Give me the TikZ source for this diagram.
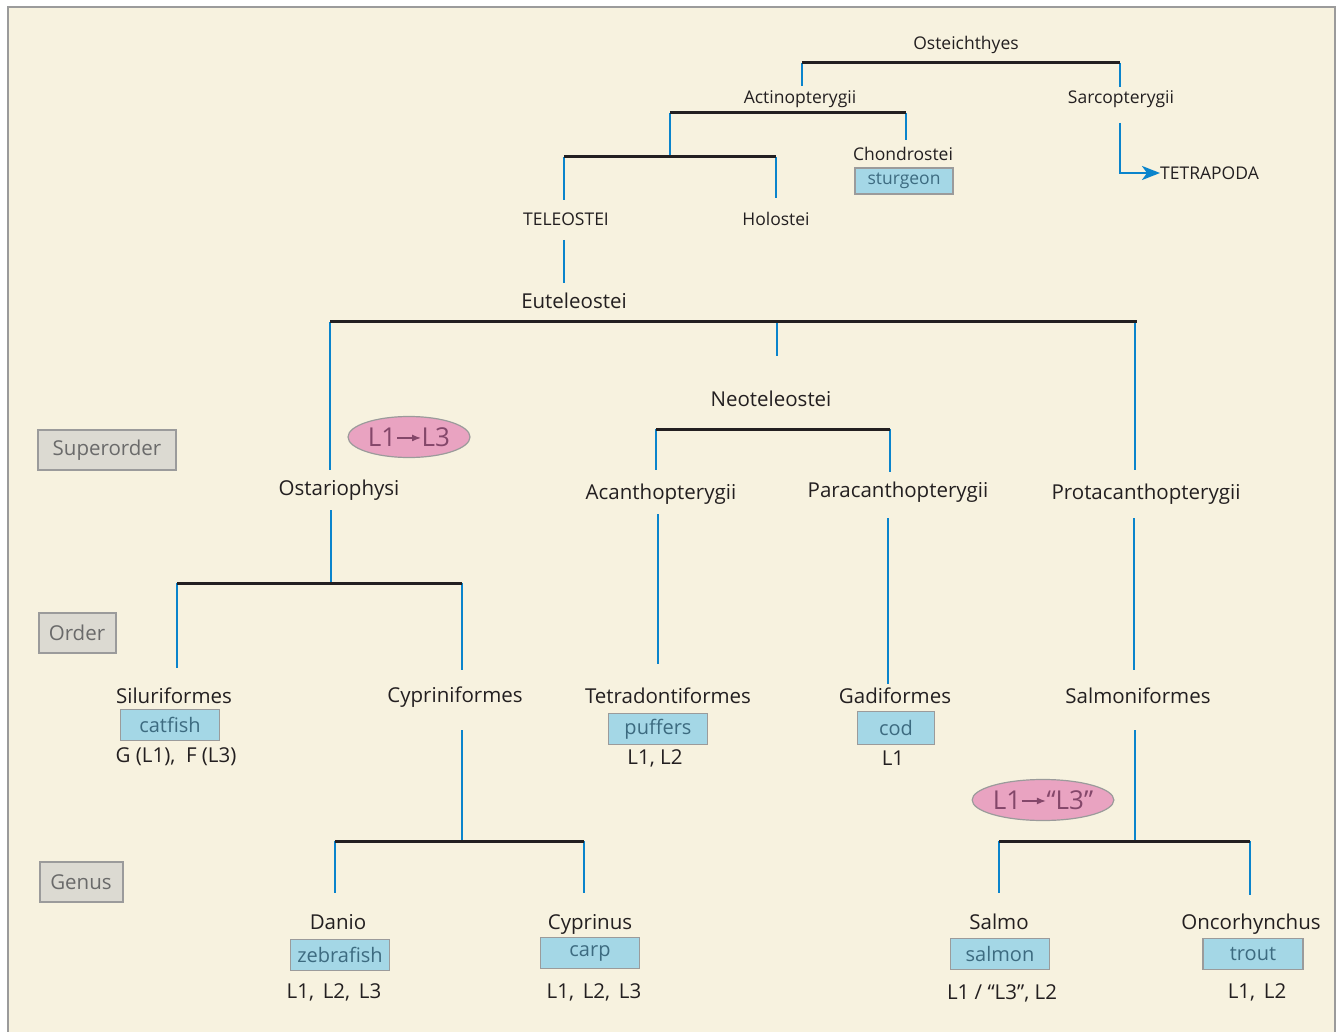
\documentclass[tikz,border=0pt]{standalone}
\usepackage{fontspec}
\setmainfont{Open Sans}
\usetikzlibrary{shapes.geometric,arrows.meta}
\definecolor{bg}{HTML}{F7F2DF}
\definecolor{ink}{HTML}{231F20}
\definecolor{tblue}{HTML}{0A84CC}
\definecolor{boxblue}{HTML}{A4D7E6}
\definecolor{boxtext}{HTML}{3D6B80}
\definecolor{pinkfill}{HTML}{E9A3C1}
\definecolor{pinktext}{HTML}{84476A}
\definecolor{rankfill}{HTML}{DCDAD2}
\definecolor{ranktext}{HTML}{6A6A6A}
\definecolor{frame}{HTML}{9B9B9B}
\newcommand{\tarr}[1]{\tikz[baseline=-0.32em]\draw[pinktext,line width=1.3pt,-{Latex[length=9pt,width=7pt]}] (0pt,0pt)--(#1,0pt);}
\begin{document}
\begin{tikzpicture}[x=1pt,y=-1pt,
  lbl/.style={font=\fontsize{20.5}{22}\selectfont, text=ink, inner sep=0pt},
  slbl/.style={font=\fontsize{17.5}{19}\selectfont, text=ink, inner sep=0pt},
  cname/.style={rectangle, draw=frame, line width=1.5pt, fill=boxblue, minimum width=99pt, minimum height=31pt, inner sep=0pt, text=boxtext, font=\fontsize{20}{22}\selectfont},
  rank/.style={rectangle, draw=frame, line width=2pt, fill=rankfill, minimum height=40pt, inner sep=0pt, text=ranktext, font=\fontsize{20.5}{22}\selectfont},
  shiftoval/.style={ellipse, draw=frame, line width=1.2pt, fill=pinkfill, minimum height=41pt, inner sep=0pt, text=pinktext, font=\fontsize{26}{28}\selectfont},
  vl/.style={tblue, line width=2.6pt},
  bar/.style={ink, line width=3pt}]
\useasboundingbox (0,0) rectangle (1339,1032);
\fill[bg] (8,7) rectangle (1335,1032);
\draw[frame, line width=2pt] (8,1032) -- (8,7) -- (1335,7) -- (1335,1032);

% ---------- labels ----------
\node[slbl] (ost) at (966,45) {Osteichthyes};
\node[slbl] (act) at (800,99) {Actinopterygii};
\node[slbl] (sar) at (1121,99) {Sarcopterygii};
\node[slbl, anchor=west] (tet) at (1160,173) {TETRAPODA};
\node[slbl] (cho) at (903,154) {Chondrostei};
\node[cname, minimum width=98pt, minimum height=26pt, font=\fontsize{17.5}{19}\selectfont] (stu) at (904,181) {sturgeon};
\node[slbl] (tel) at (566,219) {TELEOSTEI};
\node[slbl] (hol) at (776,219) {Holostei};
\node[lbl] (eut) at (574,301) {Euteleostei};
\node[lbl] (neo) at (771,399) {Neoteleostei};
\node[lbl] (osta) at (339,490) {Ostariophysi};
\node[lbl] (aca) at (661,494) {Acanthopterygii};
\node[lbl] (par) at (898,492) {Paracanthopterygii};
\node[lbl] (pro) at (1146,494) {Protacanthopterygii};
\node[lbl] (sil) at (174,696) {Siluriformes};
\node[lbl] (cyp) at (455,697) {Cypriniformes};
\node[lbl] (tetr) at (668,696) {Tetradontiformes};
\node[lbl] (gad) at (895,696) {Gadiformes};
\node[lbl] (sal) at (1138,696) {Salmoniformes};
\node[cname] (catf) at (170,725) {catfish};
\node[lbl] (catl) at (176,757) {G (L1), \ F (L3)};
\node[cname] (puff) at (658,729) {puffers};
\node[lbl] (pufl) at (655,758) {L1, L2};
\node[cname, minimum width=77pt, minimum height=33pt] (cod) at (896,728) {cod};
\node[lbl] (codl) at (893,758) {L1};
\node[lbl] (dan) at (338,922) {Danio};
\node[cname] (zeb) at (340,955) {zebrafish};
\node[lbl] (zebl) at (334,992) {L1, \,L2, \,L3};
\node[lbl] (cypr) at (590,924) {Cyprinus};
\node[cname] (carp) at (590,953) {carp};
\node[lbl] (carpl) at (594,992) {L1, \,L2, \,L3};
\node[lbl] (salm) at (999,922) {Salmo};
\node[cname] (salmon) at (1000,954) {salmon};
\node[lbl] (salml) at (1002,993) {L1 / “L3”, L2};
\node[lbl] (onc) at (1251,924) {Oncorhynchus};
\node[cname, minimum width=100pt] (trout) at (1253,954) {trout};
\node[lbl] (troutl) at (1257,992) {L1, \,L2};

\node[shiftoval, minimum width=122pt] (sh1) at (409,437) {L1\tarr{24pt}L3};
\node[shiftoval, minimum width=138pt] (sh2) at (1043,800) {L1\tarr{24pt}“L3”};

\node[rank, minimum width=138pt] (rsup) at (107,450) {Superorder};
\node[rank, minimum width=77pt] (rord) at (77,633) {Order};
\node[rank, minimum width=83pt] (rgen) at (81,882) {Genus};

% ---------- joints ----------
\coordinate (b1l) at (802,63);  \coordinate (b1r) at (1120,63);
\coordinate (actT) at (802,86); \coordinate (sarT) at (1120,87);
\coordinate (sarB) at (1120,123); \coordinate (sarC) at (1120,173);
\coordinate (b2l) at (670,113); \coordinate (b2r) at (906,113);
\coordinate (choT) at (906,140);
\coordinate (b3m) at (670,157);
\coordinate (b3l) at (564,157); \coordinate (b3r) at (776,157);
\coordinate (telT) at (564,200); \coordinate (holT) at (776,198);
\coordinate (telB) at (564,240); \coordinate (eutT) at (564,283);
\coordinate (b4l) at (330,322); \coordinate (b4m) at (777,322); \coordinate (b4r) at (1137,322);
\coordinate (b4rr) at (1135,322);
\coordinate (ostT) at (330,470); \coordinate (neoT) at (777,356); \coordinate (proT) at (1135,470);
\coordinate (b5l) at (656,429); \coordinate (b5r) at (890,429);
\coordinate (acaT) at (656,470); \coordinate (parT) at (890,472);
\coordinate (acaB) at (658,514); \coordinate (tetrT) at (658,664);
\coordinate (parB) at (888,518); \coordinate (gadT) at (888,684);
\coordinate (proB) at (1134,518); \coordinate (salT) at (1134,670);
\coordinate (ostB) at (331,510); \coordinate (b6m) at (331,583);
\coordinate (b6l) at (177,583); \coordinate (b6r) at (462,583);
\coordinate (silT) at (177,668); \coordinate (cypT) at (462,670);
\coordinate (cypB) at (462,730); \coordinate (b7m) at (462,841);
\coordinate (b7l) at (335,841); \coordinate (b7r) at (584,841);
\coordinate (danT) at (335,893); \coordinate (cyprT) at (584,893);
\coordinate (salB) at (1135,730); \coordinate (b8m) at (1135,841);
\coordinate (b8l) at (999,841); \coordinate (b8r) at (1250,841);
\coordinate (salmT) at (999,893); \coordinate (oncT) at (1250,895);

% ---------- blue verticals ----------
\draw[vl] (b1l) -- (actT);
\draw[vl] (b1r) -- (sarT);
\draw[vl, -{Stealth[length=18pt,width=14pt,inset=5pt]}] (sarB) -- (sarC) -- (tet.west);
\draw[vl] (b2r) -- (choT);
\draw[vl] (b2l) -- (b3m);
\draw[vl] (b3l) -- (telT);
\draw[vl] (b3r) -- (holT);
\draw[vl] (telB) -- (eutT);
\draw[vl] (b4l) -- (ostT);
\draw[vl] (b4m) -- (neoT);
\draw[vl] (b4rr) -- (proT);
\draw[vl] (b5l) -- (acaT);
\draw[vl] (b5r) -- (parT);
\draw[vl] (acaB) -- (tetrT);
\draw[vl] (parB) -- (gadT);
\draw[vl] (proB) -- (salT);
\draw[vl] (ostB) -- (b6m);
\draw[vl] (b6l) -- (silT);
\draw[vl] (b6r) -- (cypT);
\draw[vl] (cypB) -- (b7m);
\draw[vl] (b7l) -- (danT);
\draw[vl] (b7r) -- (cyprT);
\draw[vl] (salB) -- (b8m);
\draw[vl] (b8l) -- (salmT);
\draw[vl] (b8r) -- (oncT);

% ---------- black bars ----------
\draw[bar] (b1l) -- (b1r);
\draw[bar] (b2l) -- (b2r);
\draw[bar] (b3l) -- (b3r);
\draw[bar] (b4l) -- (b4r);
\draw[bar] (b5l) -- (b5r);
\draw[bar] (b6l) -- (b6r);
\draw[bar] (b7l) -- (b7r);
\draw[bar] (b8l) -- (b8r);
\end{tikzpicture}
\end{document}
